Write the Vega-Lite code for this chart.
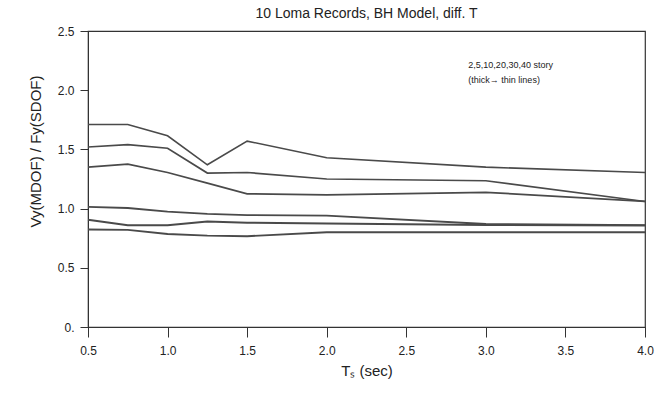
{
  "$schema": "https://vega.github.io/schema/vega-lite/v6.json",
  "autosize": "none",
  "width": 557,
  "height": 296,
  "padding": {"left": 88, "top": 31, "right": 13, "bottom": 67},
  "background": "white",
  "config": {
    "font": "Liberation Sans",
    "view": {"stroke": "#333333", "strokeWidth": 1.2}
  },
  "title": {
    "text": "10 Loma Records, BH Model, diff. T",
    "fontSize": 14,
    "fontWeight": "normal",
    "color": "#222222",
    "offset": 4,
    "anchor": "middle"
  },
  "layer": [
    {
      "data": {
        "values": [
          {"story": "40", "T": 0.5, "v": 1.71}, {"story": "40", "T": 0.75, "v": 1.71}, {"story": "40", "T": 1.0, "v": 1.615}, {"story": "40", "T": 1.25, "v": 1.37}, {"story": "40", "T": 1.5, "v": 1.57}, {"story": "40", "T": 2.0, "v": 1.43}, {"story": "40", "T": 3.0, "v": 1.35}, {"story": "40", "T": 4.0, "v": 1.305},
          {"story": "30", "T": 0.5, "v": 1.52}, {"story": "30", "T": 0.75, "v": 1.54}, {"story": "30", "T": 1.0, "v": 1.51}, {"story": "30", "T": 1.25, "v": 1.3}, {"story": "30", "T": 1.5, "v": 1.305}, {"story": "30", "T": 2.0, "v": 1.25}, {"story": "30", "T": 3.0, "v": 1.235}, {"story": "30", "T": 4.0, "v": 1.06},
          {"story": "20", "T": 0.5, "v": 1.35}, {"story": "20", "T": 0.75, "v": 1.375}, {"story": "20", "T": 1.0, "v": 1.305}, {"story": "20", "T": 1.25, "v": 1.215}, {"story": "20", "T": 1.5, "v": 1.125}, {"story": "20", "T": 2.0, "v": 1.115}, {"story": "20", "T": 3.0, "v": 1.138}, {"story": "20", "T": 4.0, "v": 1.06},
          {"story": "10", "T": 0.5, "v": 1.015}, {"story": "10", "T": 0.75, "v": 1.005}, {"story": "10", "T": 1.0, "v": 0.975}, {"story": "10", "T": 1.25, "v": 0.955}, {"story": "10", "T": 1.5, "v": 0.945}, {"story": "10", "T": 2.0, "v": 0.94}, {"story": "10", "T": 3.0, "v": 0.87}, {"story": "10", "T": 4.0, "v": 0.86},
          {"story": "2", "T": 0.5, "v": 0.905}, {"story": "2", "T": 0.75, "v": 0.86}, {"story": "2", "T": 1.0, "v": 0.86}, {"story": "2", "T": 1.25, "v": 0.89}, {"story": "2", "T": 1.5, "v": 0.88}, {"story": "2", "T": 2.0, "v": 0.875}, {"story": "2", "T": 3.0, "v": 0.862}, {"story": "2", "T": 4.0, "v": 0.857},
          {"story": "5", "T": 0.5, "v": 0.823}, {"story": "5", "T": 0.75, "v": 0.82}, {"story": "5", "T": 1.0, "v": 0.785}, {"story": "5", "T": 1.25, "v": 0.772}, {"story": "5", "T": 1.5, "v": 0.767}, {"story": "5", "T": 2.0, "v": 0.8}, {"story": "5", "T": 3.0, "v": 0.8}, {"story": "5", "T": 4.0, "v": 0.8}
        ]
      },
      "mark": {"type": "line", "color": "#4a4a4a"},
      "encoding": {
        "x": {
          "field": "T", "type": "quantitative",
          "scale": {"domain": [0.5, 4.0], "nice": false, "zero": false},
          "axis": {
            "title": "Tₛ (sec)",
            "titleFontSize": 15, "titleFontWeight": "normal", "titleColor": "#222222", "titlePadding": 7,
            "values": [0.5, 0.75, 1.0, 1.25, 1.5, 1.75, 2.0, 2.25, 2.5, 2.75, 3.0, 3.25, 3.5, 3.75, 4.0],
            "labelExpr": "round(datum.value*4) % 2 == 0 ? format(datum.value, '.1f') : ''",
            "labelOverlap": false, "labelFlush": false,
            "labelFontSize": 12, "labelColor": "#222222", "labelPadding": 8,
            "tickSize": {"condition": {"test": "round(datum.value*4) % 2 == 0", "value": 10}, "value": 5},
            "tickColor": "#333333", "domainColor": "#333333", "grid": false
          }
        },
        "y": {
          "field": "v", "type": "quantitative",
          "scale": {"domain": [0, 2.5], "nice": false},
          "axis": {
            "title": "Vy(MDOF) / Fy(SDOF)",
            "titleFontSize": 15, "titleFontWeight": "normal", "titleColor": "#222222", "titlePadding": 14,
            "titleY": 120,
            "values": [0, 0.5, 1.0, 1.5, 2.0, 2.5],
            "labelExpr": "datum.value == 0 ? '0.' : format(datum.value, '.1f')",
            "labelOverlap": false, "labelFlush": false,
            "labelFontSize": 12, "labelColor": "#222222", "labelPadding": 6,
            "tickSize": 8,
            "tickColor": "#333333", "domainColor": "#333333", "grid": false
          }
        },
        "detail": {"field": "story", "type": "nominal"},
        "strokeWidth": {
          "field": "story", "type": "nominal",
          "scale": {"domain": ["2", "5", "10", "20", "30", "40"], "range": [2.0, 1.6, 1.4, 1.2, 1.1, 1.0]},
          "legend": null
        }
      }
    },
    {
      "data": {"values": [{"note": "2,5,10,20,30,40 story", "T": 2.89, "v": 2.21}, {"note": "(thick→ thin lines)", "T": 2.89, "v": 2.09}]},
      "mark": {"type": "text", "align": "left", "baseline": "middle", "fontSize": 9, "color": "#222222"},
      "encoding": {
        "x": {"field": "T", "type": "quantitative"},
        "y": {"field": "v", "type": "quantitative"},
        "text": {"field": "note", "type": "nominal"}
      }
    }
  ]
}
